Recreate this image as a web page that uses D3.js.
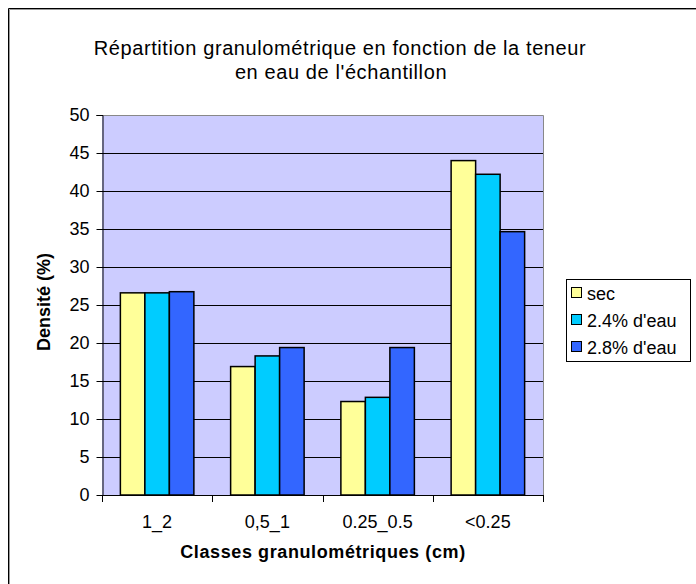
<!DOCTYPE html>
<html><head><meta charset="utf-8">
<script src="https://cdn.jsdelivr.net/npm/d3@7"></script>
<style>
html,body{margin:0;padding:0;background:#fff;}
svg{display:block;font-family:"Liberation Sans",Arial,sans-serif;}
</style></head>
<body>
<svg id="chart" width="696" height="584"></svg>
<script>
const categories = ["1_2", "0,5_1", "0.25_0.5", "<0.25"];
const seriesNames = ["sec", "2.4% d'eau", "2.8% d'eau"];
const secValues = [26.6, 16.9, 12.3, 44.0];
const eau24Values = [26.6, 18.3, 12.85, 42.2];
const eau28Values = [26.75, 19.4, 19.4, 34.65];
const yTicks = [0, 5, 10, 15, 20, 25, 30, 35, 40, 45, 50];
const colors = ["#FFFF99", "#00CCFF", "#3366FF"];
const titleLines = ["Répartition granulométrique en fonction de la teneur", "en eau de l'échantillon"];

const seriesValues = [secValues, eau24Values, eau28Values];
const svg = d3.select("#chart");

// outer chart frame (only top/left visible)
svg.append("path").attr("d","M8.5,700 V8.5 H700").attr("fill","none").attr("stroke","#000").attr("stroke-width",1);
svg.append("path").attr("d","M9.5,700 V9.5 H700").attr("fill","none").attr("stroke","#999").attr("stroke-width",1);

const L = 102, R = 543, T = 115, B = 495;
const x0 = d3.scaleBand().domain(categories).range([L, R]).padding(0);
const x1 = d3.scaleBand().domain(seriesNames).range([0, x0.bandwidth()]).paddingInner(0).paddingOuter(0.75);
const y = d3.scaleLinear().domain([0, 50]).range([B, T]);

// plot background
svg.append("rect").attr("x", L).attr("y", T).attr("width", R - L).attr("height", B - T).attr("fill", "#CCCCFF");

// gridlines
svg.append("g").selectAll("line").data(yTicks.filter(t => t > 0 && t < 50)).join("line")
  .attr("x1", L).attr("x2", R)
  .attr("y1", d => Math.round(y(d)) + 0.5).attr("y2", d => Math.round(y(d)) + 0.5)
  .attr("stroke", "#000").attr("stroke-width", 1);

// plot border top/right gray
svg.append("path").attr("d", `M${L},${T+0.5} H${R+0.5} V${B}`).attr("fill","none").attr("stroke","#888").attr("stroke-width",1);

// bars
const groups = svg.append("g").selectAll("g").data(categories).join("g")
  .attr("transform", d => `translate(${x0(d)},0)`);
groups.selectAll("rect").data((c, i) => seriesNames.map((s, j) => ({s, j, v: seriesValues[j][i]}))).join("rect")
  .attr("x", d => x1(d.s)).attr("width", x1.bandwidth())
  .attr("y", d => y(d.v)).attr("height", d => y(0) - y(d.v))
  .attr("fill", d => colors[d.j]).attr("stroke", "#000").attr("stroke-width", 1.5);

// y axis
const yAxis = d3.axisLeft(y).tickValues(yTicks).tickSize(6).tickPadding(7);
const gy = svg.append("g").attr("transform", `translate(${L+0.5},0)`).call(yAxis);
gy.select(".domain").attr("stroke", "#000").attr("d", `M-6,${T+0.5}H0.5V${B+0.5}`);
gy.selectAll("text").attr("font-size", 18).attr("fill", "#000").attr("font-family", "Liberation Sans, Arial, sans-serif");

// x axis with ticks between categories
const boundaries = categories.map(c => x0(c)).concat([R]);
const gx = svg.append("g");
gx.append("line").attr("x1", L).attr("x2", R+1).attr("y1", B+0.5).attr("y2", B+0.5).attr("stroke", "#000");
gx.selectAll("line.tick").data(boundaries).join("line").attr("class","tick")
  .attr("x1", d => Math.round(d)+0.5).attr("x2", d => Math.round(d)+0.5)
  .attr("y1", B).attr("y2", B + 7).attr("stroke", "#000");
gx.selectAll("text").data(categories).join("text")
  .attr("x", d => x0(d) + x0.bandwidth()/2).attr("y", 528)
  .attr("text-anchor", "middle").attr("font-size", 18).attr("fill","#000")
  .text(d => d);

// titles
svg.append("text").attr("x", 340).attr("y", 55).attr("text-anchor","middle").attr("font-size", 20).attr("letter-spacing", 0.6).text(titleLines[0]);
svg.append("text").attr("x", 341).attr("y", 79).attr("text-anchor","middle").attr("font-size", 20).attr("letter-spacing", 0.6).text(titleLines[1]);

svg.append("text").attr("x", 323).attr("y", 558).attr("text-anchor","middle")
  .attr("font-size", 18).attr("font-weight","bold").attr("letter-spacing", 0.6).text("Classes granulométriques (cm)");
svg.append("text").attr("transform", "translate(50,302) rotate(-90)").attr("text-anchor","middle")
  .attr("font-size", 18).attr("font-weight","bold").text("Densité (%)");

// legend
const lg = svg.append("g");
lg.append("rect").attr("x", 566.5).attr("y", 279.5).attr("width", 124).attr("height", 82)
  .attr("fill","#fff").attr("stroke","#000").attr("stroke-width",1);
const ly = [293, 320, 347];
seriesNames.forEach((s, j) => {
  lg.append("rect").attr("x", 571.5).attr("y", ly[j]-5.5).attr("width", 10).attr("height", 10)
    .attr("fill", colors[j]).attr("stroke","#000").attr("stroke-width",1);
  lg.append("text").attr("x", 587).attr("y", ly[j]+6.5).attr("font-size", 18).text(s);
});
</script>
</body></html>
